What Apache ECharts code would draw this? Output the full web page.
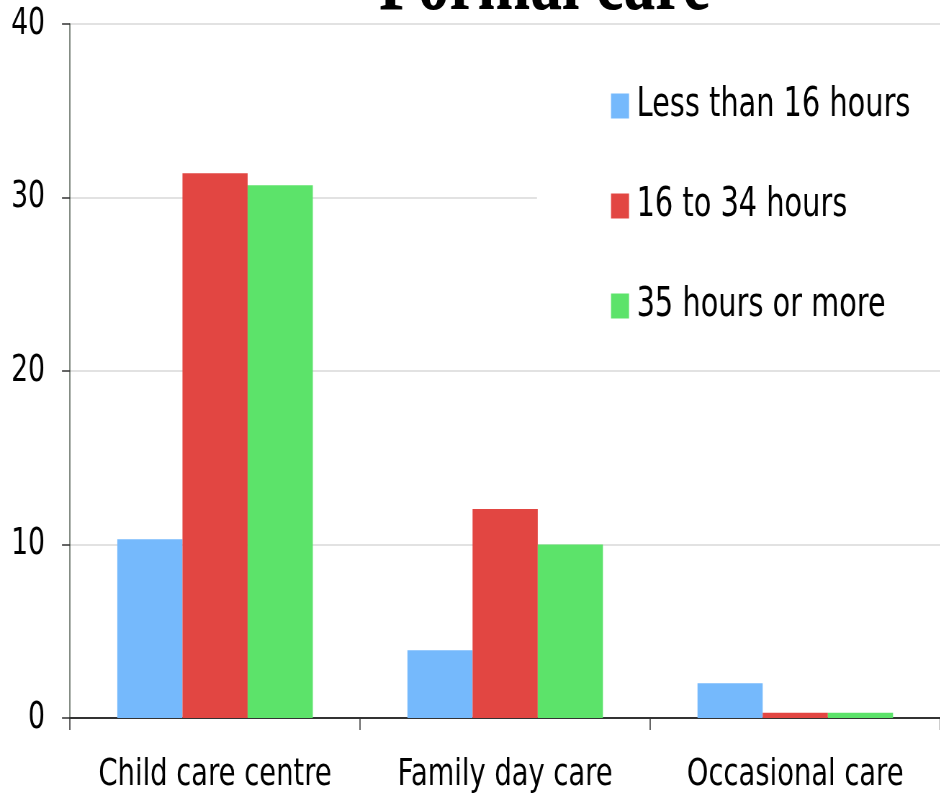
<!DOCTYPE html>
<html>
<head>
<meta charset="utf-8">
<script src="https://cdn.jsdelivr.net/npm/echarts@6/dist/echarts.min.js"></script>
<style>
  html, body { margin: 0; padding: 0; background: #fff; overflow: hidden; }
  #wrap { width: 940px; height: 794px; overflow: hidden; }
  /* the reference's text is horizontally squeezed, so draw wide and scale down */
  #chart { width: 1306px; height: 794px; transform: scaleX(0.72); transform-origin: 0 0; }
</style>
</head>
<body>
<div id="wrap"><div id="chart"></div></div>
<script>
const categories = ['Child care centre', 'Family day care', 'Occasional care'];
const seriesNames = ['Less than 16 hours', '16 to 34 hours', '35 hours or more'];
const lessThan16 = [10.3, 3.9, 2.0];
const from16to34 = [31.4, 12.05, 0.3];
const over35 = [30.7, 10.0, 0.3];
const yTicks = [0, 10, 20, 30, 40];

const S = 0.72;
const X = (px) => px / S;
const colors = ['#75b9fc', '#e24642', '#5ce36a'];
const font = "'DejaVu Sans', Verdana, sans-serif";

const chart = echarts.init(document.getElementById('chart'));

function bar(name, data, i) {
  return {
    name,
    type: 'bar',
    data,
    barGap: '0%',
    barCategoryGap: '32.6%',
    itemStyle: { color: colors[i] }
  };
}

chart.setOption({
  animation: false,
  title: {
    text: 'Formal care',
    left: X(379),
    top: -58,
    padding: 0,
    textStyle: { fontFamily: "'Liberation Serif', 'Times New Roman', serif", fontWeight: 'bold', fontSize: 88, color: '#000' }
  },
  legend: {
    orient: 'vertical',
    left: X(537),
    top: 56,
    padding: [30, X(30), 30, X(74)],
    backgroundColor: '#fff',
    icon: 'rect',
    itemWidth: X(18),
    itemHeight: 25,
    itemGap: 60,
    data: seriesNames,
    textStyle: { fontFamily: font, fontSize: 40, lineHeight: 37, color: '#000', padding: [0, 0, 0, X(4)] }
  },
  grid: { left: X(70), top: 24, width: X(873), bottom: 76, containLabel: false },
  xAxis: {
    type: 'category',
    data: categories,
    axisLine: { lineStyle: { color: '#333', width: 2 } },
    axisTick: { show: true, interval: 0, length: 12, lineStyle: { color: '#333', width: 1.5 } },
    axisLabel: { interval: 0, fontFamily: font, fontSize: 38, color: '#000', margin: 38 }
  },
  yAxis: {
    type: 'value',
    min: yTicks[0],
    max: yTicks[yTicks.length - 1],
    interval: 10,
    axisLine: { show: true, lineStyle: { color: '#5b665b', width: 1.5 } },
    axisTick: { show: true, length: X(8), lineStyle: { color: '#333', width: 1.5 } },
    splitLine: { lineStyle: { color: '#d9d9d9', width: 1.5 } },
    axisLabel: { fontFamily: font, fontSize: 37, color: '#000', margin: X(25) }
  },
  series: [
    bar(seriesNames[0], lessThan16, 0),
    bar(seriesNames[1], from16to34, 1),
    bar(seriesNames[2], over35, 2)
  ]
});
</script>
</body>
</html>
